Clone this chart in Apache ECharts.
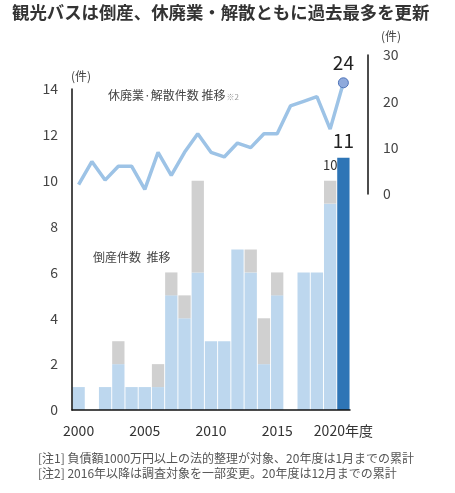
<!DOCTYPE html>
<html>
<head>
<meta charset="utf-8">
<script src="https://cdn.jsdelivr.net/npm/echarts@6/dist/echarts.min.js"></script>
<style>
  html, body { margin: 0; padding: 0; background: #fff; }
  #chart { width: 455px; height: 493px; }
</style>
</head>
<body>
<div id="chart"></div>
<script>
// 年度
var years = ['2000','2001','2002','2003','2004','2005','2006','2007','2008','2009','2010',
             '2011','2012','2013','2014','2015','2016','2017','2018','2019','2020'];
// 倒産件数 (水色部分)
var bankruptMain = [1,0,1,2,1,1,1,5,4,6,3,3,7,6,2,5,0,6,6,9,11];
// 倒産件数 (灰色部分)
var bankruptExtra = [0,0,0,1,0,0,1,1,1,4,0,0,0,1,2,1,0,0,0,1,0];
// 休廃業・解散件数 (右軸)
var closures = [2,7,3,6,6,1,9,4,9,13,9,8,11,10,13,13,19,20,21,14,24];

var font = '"Noto Sans CJK JP", "Noto Sans", sans-serif';
var last = years.length - 1;

var mainData = bankruptMain.map(function (v, i) {
  if (i === last) {
    return {
      value: v,
      itemStyle: { color: '#2e75b6' },
      label: { show: true, position: 'top', distance: 8, fontSize: 19, color: '#222', fontFamily: font }
    };
  }
  return v === 0 ? null : v;
});
var extraData = bankruptExtra.map(function (v, i) {
  if (i === last - 1) {
    return {
      value: v,
      label: {
        show: true, position: 'top', distance: 9, fontSize: 13, color: '#333', fontFamily: font,
        formatter: function () { return bankruptMain[last - 1] + bankruptExtra[last - 1]; }
      }
    };
  }
  return v === 0 ? null : v;
});
var lineData = closures.map(function (v, i) {
  if (i === last) {
    return {
      value: v,
      symbol: 'circle', symbolSize: 10,
      itemStyle: { color: '#8faadc', borderColor: '#4f74b8', borderWidth: 1 },
      label: { show: true, position: 'top', distance: 5, fontSize: 19, color: '#222', fontFamily: font }
    };
  }
  return { value: v, symbol: 'none' };
});

var chart = echarts.init(document.getElementById('chart'));
chart.setOption({
  animation: false,
  textStyle: { fontFamily: font },
  grid: [
    { left: 72, right: 105, top: 89, bottom: 83 },
    { left: 72, right: 105, top: 55, bottom: 299 }
  ],
  xAxis: [
    {
      type: 'category', gridIndex: 0, data: years, z: 10,
      axisLine: { lineStyle: { color: '#111', width: 1.5 } },
      axisTick: { show: false },
      axisLabel: {
        interval: 4, margin: 14, fontSize: 14, color: '#333',
        formatter: function (v) { return v === '2020' ? '2020年度' : v; }
      }
    },
    {
      type: 'category', gridIndex: 1, data: years,
      show: false
    }
  ],
  yAxis: [
    {
      type: 'value', gridIndex: 0, min: 0, max: 14, interval: 2, z: 10,
      axisLine: { show: true, lineStyle: { color: '#111', width: 1.5 } },
      axisTick: { show: false },
      splitLine: { show: false },
      axisLabel: { margin: 14, fontSize: 14, color: '#444' }
    },
    {
      type: 'value', gridIndex: 1, min: 0, max: 30, interval: 10,
      position: 'right', offset: 18,
      axisLine: { show: true, lineStyle: { color: '#111', width: 1.5 } },
      axisTick: { show: false },
      splitLine: { show: false },
      axisLabel: { margin: 15, fontSize: 14, color: '#444' }
    }
  ],
  series: [
    {
      name: '倒産件数', type: 'bar', stack: 'b', xAxisIndex: 0, yAxisIndex: 0,
      data: mainData, barWidth: '93%',
      itemStyle: { color: '#bdd7ee' }
    },
    {
      name: '倒産件数(他)', type: 'bar', stack: 'b', xAxisIndex: 0, yAxisIndex: 0,
      data: extraData, barWidth: '93%',
      itemStyle: { color: '#d0d0d0' }
    },
    {
      name: '休廃業・解散件数', type: 'line', xAxisIndex: 1, yAxisIndex: 1,
      data: lineData, z: 5, showSymbol: true, showAllSymbol: true,
      lineStyle: { color: '#9dc3e6', width: 3.5 },
      itemStyle: { color: '#9dc3e6' }
    }
  ],
  graphic: [
    { type: 'text', left: 12, top: 4,
      style: { text: '観光バスは倒産、休廃業・解散ともに過去最多を更新', font: 'bold 17.4px ' + font, fill: '#333' } },
    { type: 'text', left: 71, top: 70,
      style: { text: '(件)', font: '12px ' + font, fill: '#444' } },
    { type: 'text', left: 381, top: 30,
      style: { text: '(件)', font: '12px ' + font, fill: '#444' } },
    { type: 'text', left: 108, top: 89,
      style: {
        text: '{a|休廃業·解散件数 推移}{b|※2}',
        rich: {
          a: { fontSize: 12, fontFamily: font, fill: '#444', color: '#444' },
          b: { fontSize: 8, fontFamily: font, fill: '#999', color: '#999', padding: [4, 0, 0, 1] }
        }
      } },
    { type: 'text', left: 93, top: 251,
      style: { text: '倒産件数  推移', font: '12px ' + font, fill: '#444' } },
    { type: 'text', left: 38, top: 452,
      style: { text: '[注1] 負債額1000万円以上の法的整理が対象、20年度は1月までの累計', font: '12px ' + font, fill: '#555' } },
    { type: 'text', left: 38, top: 467,
      style: { text: '[注2] 2016年以降は調査対象を一部変更。20年度は12月までの累計', font: '12px ' + font, fill: '#555' } }
  ]
});
</script>
</body>
</html>
